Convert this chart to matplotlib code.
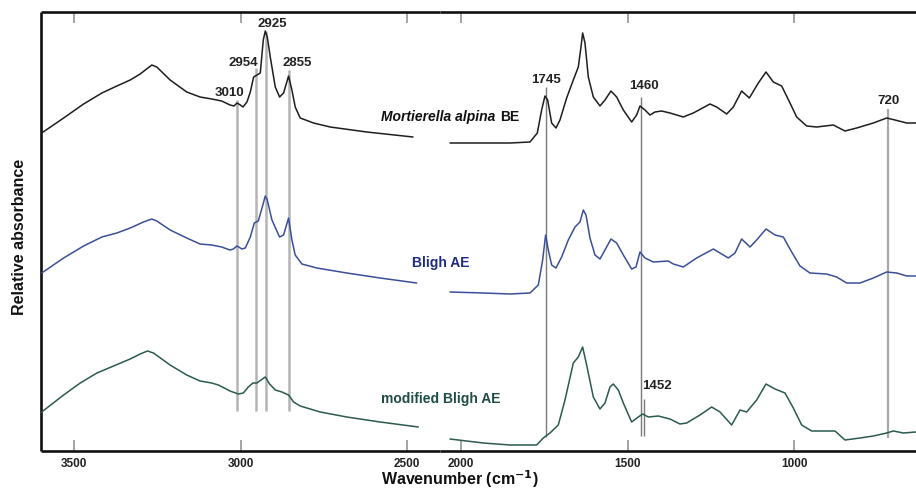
import matplotlib
matplotlib.use("Agg")
import matplotlib.pyplot as plt

plt.rcParams['font.family'] = ['Liberation Sans', 'DejaVu Sans']

# ---------------- data (wavenumber cm-1, relative absorbance) ----------------
# Mortierella alpina BE
be_wn_hi = [3598, 3532, 3472, 3417, 3372, 3332, 3302, 3267, 3252, 3212, 3162, 3122, 3087, 3057,
            3032, 3020, 3011, 3001, 2993, 2981, 2971, 2961, 2951, 2941, 2932, 2926, 2920, 2911,
            2896, 2883, 2871, 2856, 2846, 2836, 2821, 2781, 2731, 2621, 2482]
be_ab_hi = [3.18, 3.33, 3.47, 3.58, 3.65, 3.71, 3.77, 3.86, 3.84, 3.71, 3.59, 3.54, 3.52, 3.50,
            3.46, 3.45, 3.48, 3.46, 3.44, 3.49, 3.59, 3.74, 3.76, 3.78, 4.11, 4.20, 4.14, 3.94,
            3.64, 3.54, 3.58, 3.75, 3.61, 3.44, 3.33, 3.28, 3.24, 3.19, 3.14]
be_wn_lo = [2033, 1933, 1853, 1793, 1771, 1758, 1748, 1740, 1728, 1715, 1703, 1683, 1663, 1648,
            1640, 1635, 1628, 1618, 1603, 1583, 1568, 1550, 1533, 1513, 1488, 1473, 1463, 1448,
            1433, 1418, 1398, 1373, 1333, 1303, 1253, 1233, 1203, 1183, 1158, 1135, 1108, 1085,
            1063, 1038, 1013, 993, 963, 933, 883, 848, 813, 763, 723, 698, 663, 633]
be_ab_lo = [3.08, 3.08, 3.08, 3.09, 3.18, 3.41, 3.55, 3.51, 3.28, 3.23, 3.31, 3.53, 3.71, 3.84,
            4.04, 4.18, 4.08, 3.74, 3.54, 3.45, 3.51, 3.60, 3.54, 3.41, 3.29, 3.36, 3.45, 3.41,
            3.36, 3.39, 3.40, 3.38, 3.34, 3.38, 3.47, 3.44, 3.37, 3.44, 3.60, 3.53, 3.68, 3.79,
            3.69, 3.65, 3.48, 3.34, 3.25, 3.24, 3.26, 3.20, 3.23, 3.28, 3.33, 3.31, 3.28, 3.28]

# Bligh AE
bl_wn_hi = [3598, 3532, 3472, 3417, 3372, 3332, 3292, 3267, 3252, 3212, 3162, 3122, 3087, 3057,
            3032, 3022, 3011, 2996, 2986, 2971, 2959, 2947, 2935, 2926, 2920, 2906, 2883, 2871,
            2856, 2846, 2836, 2816, 2771, 2681, 2581, 2471]
bl_ab_hi = [1.78, 1.93, 2.05, 2.14, 2.18, 2.23, 2.29, 2.32, 2.30, 2.21, 2.13, 2.07, 2.06, 2.04,
            2.01, 2.02, 2.05, 2.02, 2.03, 2.14, 2.28, 2.30, 2.44, 2.55, 2.51, 2.31, 2.14, 2.16,
            2.33, 2.11, 1.96, 1.87, 1.83, 1.78, 1.73, 1.68]
bl_wn_lo = [2033, 1933, 1853, 1793, 1768, 1755, 1746, 1738, 1728, 1715, 1698, 1678, 1658, 1643,
            1633, 1625, 1613, 1598, 1583, 1568, 1550, 1533, 1513, 1488, 1475, 1463, 1448, 1423,
            1378, 1363, 1333, 1293, 1243, 1198, 1178, 1158, 1133, 1113, 1085, 1058, 1033, 1008,
            983, 953, 903, 873, 843, 803, 763, 723, 693, 663, 636]
bl_ab_lo = [1.59, 1.58, 1.57, 1.58, 1.66, 1.91, 2.16, 2.01, 1.86, 1.83, 1.94, 2.11, 2.24, 2.29,
            2.41, 2.36, 2.13, 1.96, 1.92, 2.01, 2.12, 2.08, 1.96, 1.82, 1.84, 1.99, 1.93, 1.89,
            1.90, 1.87, 1.84, 1.93, 2.02, 1.93, 1.98, 2.12, 2.04, 2.11, 2.22, 2.16, 2.14, 1.99,
            1.85, 1.78, 1.77, 1.74, 1.68, 1.68, 1.73, 1.79, 1.78, 1.75, 1.75]

# modified Bligh AE
mb_wn_hi = [3598, 3532, 3482, 3432, 3382, 3332, 3302, 3280, 3262, 3212, 3162, 3122, 3087, 3067,
            3032, 3007, 2992, 2977, 2963, 2951, 2939, 2926, 2913, 2896, 2876, 2856, 2841, 2821,
            2761, 2681, 2581, 2466]
mb_ab_hi = [0.39, 0.56, 0.68, 0.78, 0.85, 0.92, 0.97, 1.00, 0.98, 0.86, 0.76, 0.70, 0.68, 0.66,
            0.60, 0.57, 0.58, 0.64, 0.68, 0.68, 0.71, 0.74, 0.67, 0.61, 0.59, 0.56, 0.49, 0.45,
            0.39, 0.34, 0.29, 0.24]
mb_wn_lo = [2033, 1933, 1853, 1773, 1753, 1733, 1708, 1688, 1663, 1648, 1635, 1623, 1603, 1583,
            1568, 1553, 1543, 1528, 1513, 1488, 1468, 1455, 1438, 1408, 1373, 1343, 1323, 1283,
            1248, 1223, 1188, 1163, 1143, 1113, 1085, 1058, 1028, 1003, 978, 948, 878, 848, 803,
            763, 723, 703, 673, 636]
mb_ab_lo = [0.12, 0.08, 0.06, 0.06, 0.13, 0.18, 0.26, 0.51, 0.88, 0.94, 1.04, 0.86, 0.54, 0.42,
            0.48, 0.64, 0.67, 0.61, 0.48, 0.29, 0.34, 0.37, 0.34, 0.35, 0.32, 0.27, 0.28, 0.36,
            0.44, 0.39, 0.26, 0.41, 0.39, 0.51, 0.67, 0.62, 0.58, 0.43, 0.26, 0.20, 0.20, 0.11,
            0.13, 0.15, 0.18, 0.20, 0.18, 0.19]

# band markers
band_hi = [3010, 2954, 2925, 2855]
band_hi_top = [3.51, 3.83, 4.20, 3.81]
band_hi_bottom = 0.40
band_lo = [1745, 1460, 1452, 720]
band_lo_top = [3.64, 3.54, 0.52, 3.42]
band_lo_bottom = [0.14, 0.15, 0.15, 0.13]
band_labels_hi = ["3010", "2954", "2925", "2855"]
band_label_hi_pos = [(3035, 3.55), (2992, 3.85), (2906, 4.24), (2831, 3.85)]
band_labels_lo = ["1745", "1460", "1452", "720"]
band_label_lo_pos = [(1746, 3.68), (1451, 3.62), (1413, 0.62), (716, 3.47)]

ticks_hi = [3500, 3000, 2500]
ticks_lo = [2000, 1500, 1000]

# ---------------- figure ----------------
W, H = 916, 490
fig = plt.figure(figsize=(W / 100, H / 100), dpi=100)
x0, xb, ybot, ytop = 41, 440.3, 451, 12
ax1 = fig.add_axes([x0 / W, (H - ybot) / H, (xb - x0) / W, (ybot - ytop) / H])
ax2 = fig.add_axes([xb / W, (H - ybot) / H, (W - xb) / W, (ybot - ytop) / H])

ax1.set_xlim(3600, 2400)
ax2.set_xlim(2062, 635)
for ax in (ax1, ax2):
    ax.set_ylim(0, 4.39)
    ax.set_yticks([])
    ax.spines['right'].set_visible(False)
    for s in ('top', 'bottom', 'left'):
        ax.spines[s].set_linewidth(1.9)
        ax.spines[s].set_color('#111111')
        ax.spines[s].set_capstyle('butt')
    ax.tick_params(axis='x', which='both', direction='in', top=True, bottom=True,
                   length=8, width=1.1, color='#8a8a8a', labelsize=8.5, pad=5,
                   labelcolor='#222222')
    ax.patch.set_alpha(0)
ax2.spines['left'].set_visible(False)
ax1.set_xticks(ticks_hi)
ax2.set_xticks(ticks_lo)
for ax in (ax1, ax2):
    for lab in ax.get_xticklabels():
        lab.set_fontweight('bold')

c_be, c_bl, c_mb = '#1e1e1e', '#3a4f98', '#2b5a50'

# band marker lines
ax1.vlines(band_hi, band_hi_bottom, band_hi_top, colors='#b4b4b4', linewidth=1.8, zorder=1)
ax2.vlines(band_lo[:3], band_lo_bottom[:3], band_lo_top[:3], colors='#7a7a7a', linewidth=1.0, zorder=1)
ax2.vlines(band_lo[3:], band_lo_bottom[3:], band_lo_top[3:], colors='#a8a8a8', linewidth=1.6, zorder=1)

# spectra
kw = dict(lw=1.1, zorder=3, solid_joinstyle='round', solid_capstyle='round')
ax1.plot(be_wn_hi, be_ab_hi, color=c_be, **kw)
ax2.plot(be_wn_lo, be_ab_lo, color=c_be, **kw)
ax1.plot(bl_wn_hi, bl_ab_hi, color=c_bl, **kw)
ax2.plot(bl_wn_lo, bl_ab_lo, color=c_bl, **kw)
ax1.plot(mb_wn_hi, mb_ab_hi, color=c_mb, **kw)
ax2.plot(mb_wn_lo, mb_ab_lo, color=c_mb, **kw)

# band labels
for lab, (xx, yy) in zip(band_labels_hi, band_label_hi_pos):
    ax1.text(xx, yy, lab, ha='center', va='baseline', fontsize=9.5, fontweight='bold', color='#222222')
for lab, (xx, yy) in zip(band_labels_lo, band_label_lo_pos):
    ax2.text(xx, yy, lab, ha='center', va='baseline', fontsize=9.5, fontweight='bold', color='#222222')

# spectrum names
fig.text(495 / W, 1 - 117 / H, 'Mortierella alpina', ha='right', va='center', fontsize=10,
         fontweight='bold', fontstyle='italic', color='#111111')
fig.text(500 / W, 1 - 117 / H, 'BE', ha='left', va='center', fontsize=10,
         fontweight='bold', color='#111111')
fig.text(441 / W, 1 - 263 / H, 'Bligh AE', ha='center', va='center', fontsize=10,
         fontweight='bold', color='#1c2a85')
fig.text(441 / W, 1 - 399 / H, 'modified Bligh AE', ha='center', va='center', fontsize=10,
         fontweight='bold', color='#1d4d45')

# axis titles
fig.text(460 / W, 1 - 479 / H, r'Wavenumber (cm$^{\mathbf{-1}}$)', ha='center', va='center',
         fontsize=11.5, fontweight='bold', color='#111111')
fig.text(20 / W, 1 - 237 / H, 'Relative absorbance', ha='center', va='center', rotation=90,
         fontsize=11.5, fontweight='bold', color='#111111')

fig.savefig('out.png', dpi=100)
